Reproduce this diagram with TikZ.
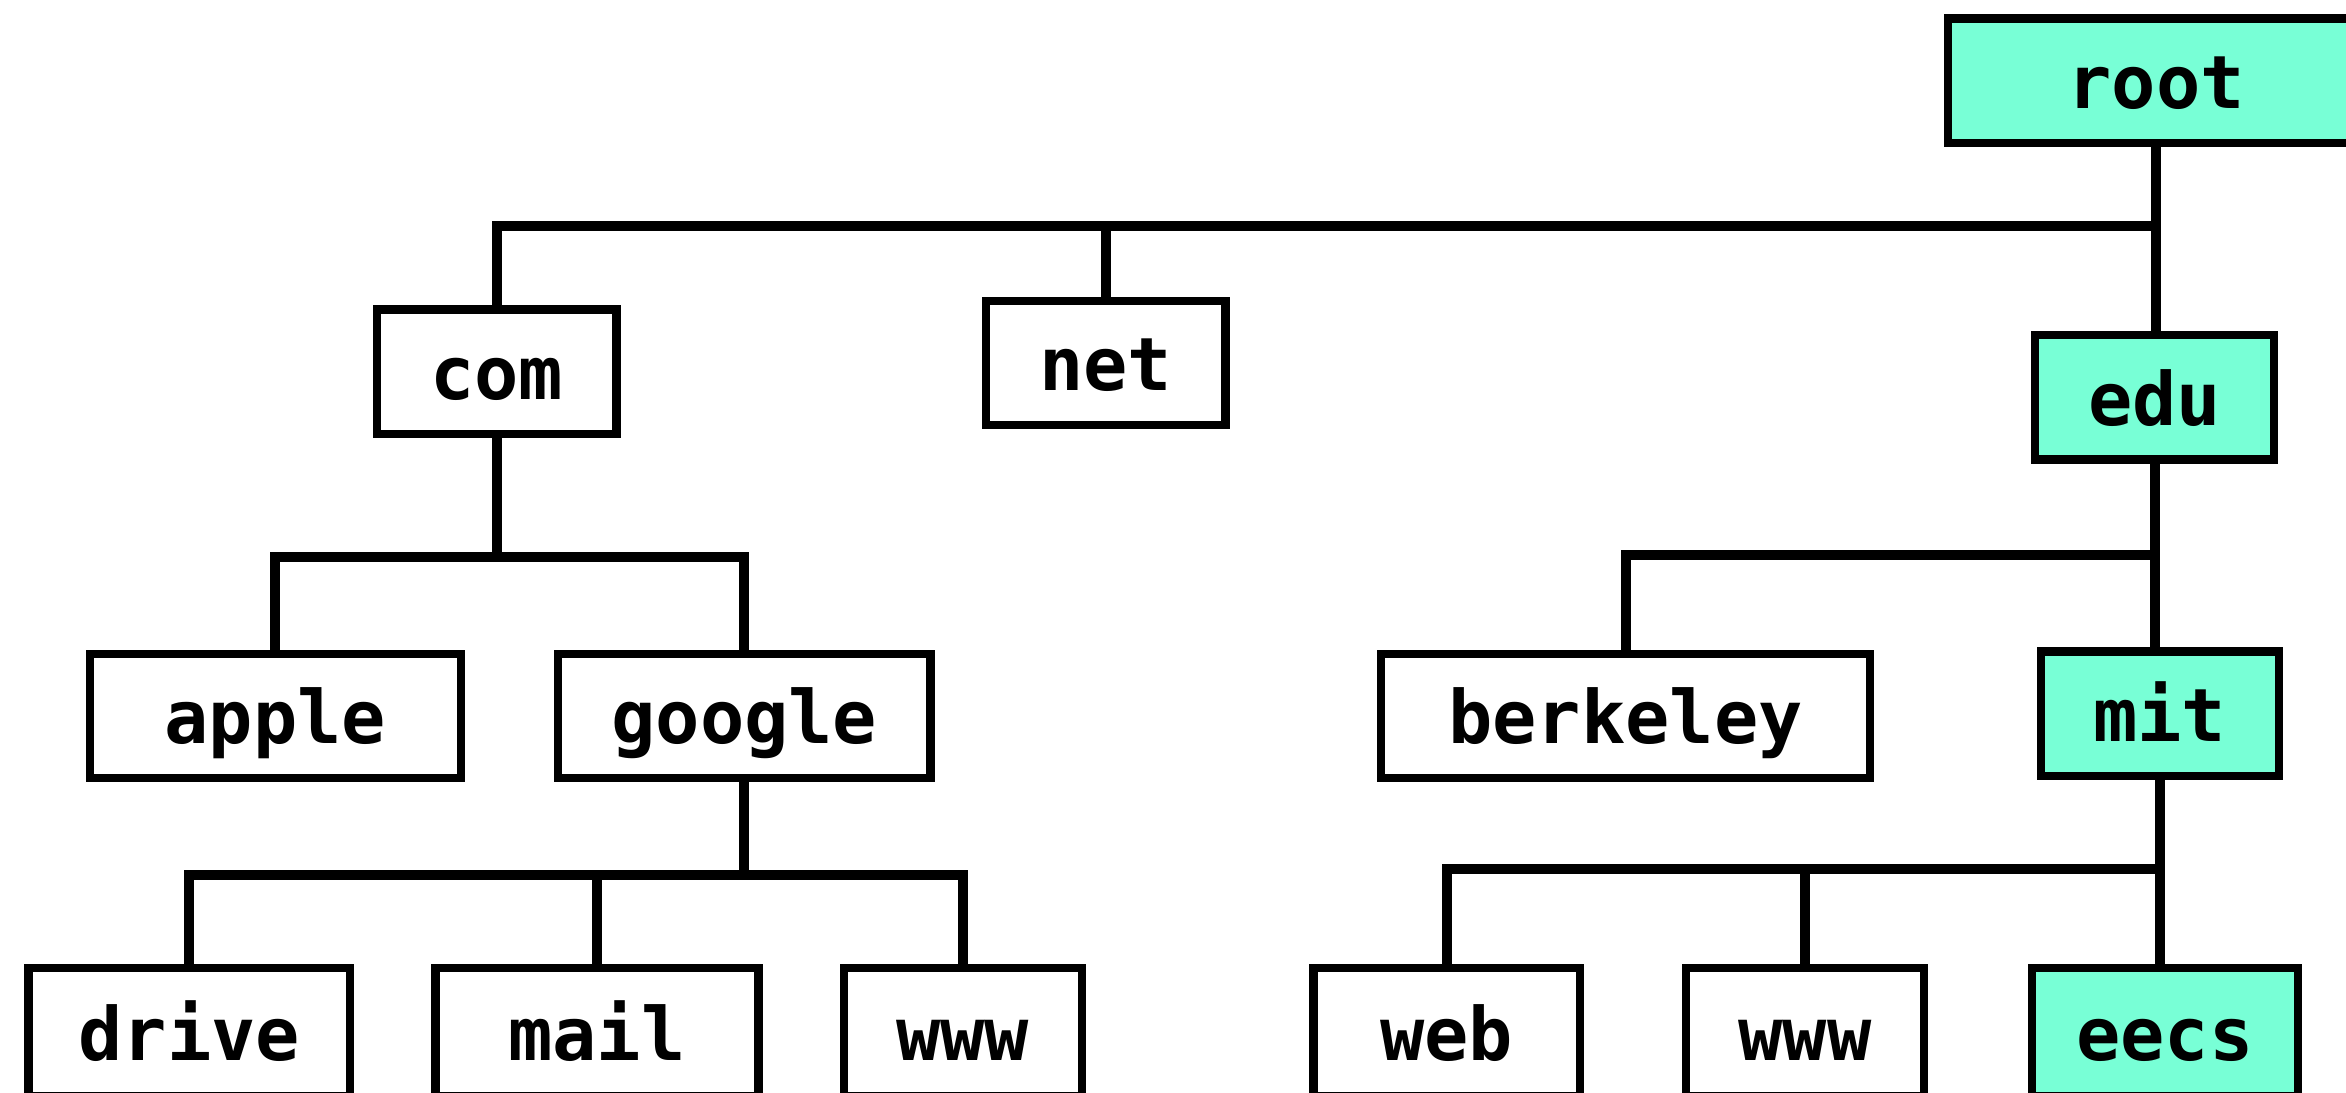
\documentclass[tikz,border=0pt]{standalone}
\usepackage{fontspec}
\setmonofont{DejaVu Sans Mono}
\definecolor{dnsgreen}{HTML}{78FFD6}

\begin{document}
\begin{tikzpicture}[
    dnsbox/.style={draw, line width=1.6pt, minimum height=0.83cm, inner sep=0pt,
      text height=12pt, text depth=1.4pt,
      font=\fontsize{14}{16}\selectfont\ttfamily\bfseries},
    hilite/.style={dnsbox, fill=dnsgreen},
    leaf/.style={dnsbox, minimum height=0.86cm},
    link/.style={line width=1.9pt}
  ]
  \useasboundingbox (0,0) rectangle (15.68,7.30);

  % --- NODES ---
  % top level
  \node[hilite, minimum width=2.78cm] (root) at (14.41,6.76) {root};
  \node[dnsbox, minimum width=1.60cm] (com) at (3.32,4.815) {com};
  \node[dnsbox, minimum width=1.60cm] (net) at (7.39,4.875) {net};
  \node[hilite, minimum width=1.60cm] (edu) at (14.40,4.645) {edu};

  % second level
  \node[dnsbox, minimum width=2.48cm] (apple) at (1.84,2.515) {apple};
  \node[dnsbox, minimum width=2.49cm] (google) at (4.975,2.515) {google};
  \node[dnsbox, minimum width=3.27cm] (berkeley) at (10.865,2.515) {berkeley};
  \node[hilite, minimum width=1.59cm] (mit) at (14.435,2.53) {mit};

  % leaves (cut at the bottom edge)
  \node[leaf, minimum width=2.15cm] (drive) at (1.265,0.40) {drive};
  \node[leaf, minimum width=2.16cm] (mail) at (3.99,0.40) {mail};
  \node[leaf, minimum width=1.59cm] (gwww) at (6.435,0.40) {www};
  \node[leaf, minimum width=1.78cm] (web) at (9.67,0.40) {web};
  \node[leaf, minimum width=1.59cm] (mwww) at (12.065,0.40) {www};
  \node[hilite, minimum height=0.86cm, minimum width=1.78cm] (eecs) at (14.47,0.40) {eecs};

  % --- BARS ---
  \coordinate (rootbar) at (0,5.79);
  \coordinate (combar) at (0,3.58);
  \coordinate (googlebar) at (0,1.45);
  \coordinate (edubar) at (0,3.59);
  \coordinate (mitbar) at (0,1.49);

  % root -> com, net, edu
  \draw[link] (root.south) -- (root.south |- edu.north);
  \draw[link] (com.north) -- (com.north |- rootbar) -- (root.south |- rootbar);
  \draw[link] (net.north) -- (net.north |- rootbar);

  % com -> apple, google
  \draw[link] (com.south) -- (com.south |- combar);
  \draw[link] (apple.north) -- (apple.north |- combar) -- (google.north |- combar) -- (google.north);

  % google -> drive, mail, www
  \draw[link] (google.south) -- (google.south |- googlebar);
  \draw[link] (drive.north) -- (drive.north |- googlebar) -- (gwww.north |- googlebar) -- (gwww.north);
  \draw[link] (mail.north) -- (mail.north |- googlebar);

  % edu -> berkeley, mit
  \draw[link] (edu.south) -- (edu.south |- mit.north);
  \draw[link] (berkeley.north) -- (berkeley.north |- edubar) -- (edu.south |- edubar);

  % mit -> web, www, eecs
  \draw[link] (mit.south) -- (mit.south |- eecs.north);
  \draw[link] (web.north) -- (web.north |- mitbar) -- (mit.south |- mitbar);
  \draw[link] (mwww.north) -- (mwww.north |- mitbar);
\end{tikzpicture}
\end{document}
